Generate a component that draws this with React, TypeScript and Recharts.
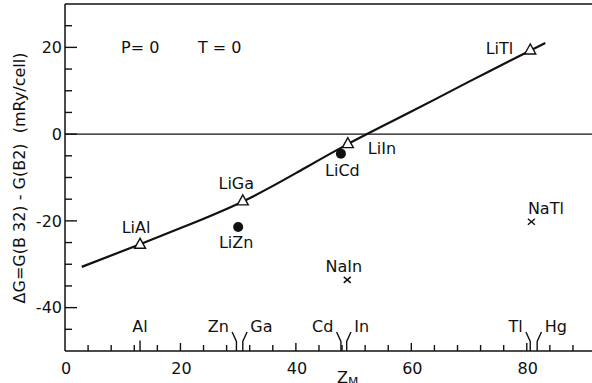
import React from 'react';
import { ComposedChart, Line, Scatter, XAxis, YAxis, ReferenceLine } from 'recharts';

// Fitted curve
const curveZ = [2.9, 13, 22, 31, 40, 49, 60, 70, 80.8, 83.2];
const curveDG = [-30.6, -25.4, -20.6, -15.4, -9.0, -2.3, 5.2, 12.1, 19.4, 21.0];

// Computed compounds
const pointNames = ['LiAl', 'LiGa', 'LiZn', 'LiCd', 'LiIn', 'NaIn', 'LiTl', 'NaTl'];
const pointZ = [13, 30.8, 30, 47.8, 49, 48.9, 80.6, 80.8];
const pointDG = [-25.4, -15.4, -21.4, -4.5, -2.2, -33.6, 19.4, -20.2];
const pointKind = ['triangle', 'triangle', 'circle', 'circle', 'triangle', 'cross', 'triangle', 'cross'];

// Element markers on the Z axis
const elementNames = ['Al', 'Zn', 'Ga', 'Cd', 'In', 'Tl', 'Hg'];
const elementZ = [13, 29.7, 30.8, 47.8, 48.8, 80.6, 81.8];
const elementBranch = ['single', 'left', 'right', 'left', 'right', 'left', 'right'];

// Axes
const xTicks = [0, 4, 8, 12, 16, 20, 24, 28, 32, 36, 40, 44, 48, 52, 56, 60, 64, 68, 72, 76, 80, 84, 88];
const xTickLabels = [0, 20, 40, 60, 80];
const yTicks = [-45, -40, -35, -30, -25, -20, -15, -10, -5, 0, 5, 10, 15, 20, 25];
const yTickLabels = [-40, -20, 0, 20];

const curveData = curveZ.map((z, i) => ({ z, dg: curveDG[i] }));
const pointData = pointNames.map((name, i) => ({ name, z: pointZ[i], dg: pointDG[i], kind: pointKind[i] }));
const elementData = elementNames.map((name, i) => ({ name, z: elementZ[i], dg: -50, branch: elementBranch[i] }));

// Label placement (layout, in px relative to marker)
const LABEL_POS: Record<string, { dx: number; dy: number; anchor: 'start' | 'middle' | 'end' }> = {
  LiAl: { dx: -4, dy: -11, anchor: 'middle' },
  LiGa: { dx: -6.5, dy: -12, anchor: 'middle' },
  LiZn: { dx: -2, dy: 21, anchor: 'middle' },
  LiCd: { dx: 1.5, dy: 22, anchor: 'middle' },
  LiIn: { dx: 20, dy: 10, anchor: 'start' },
  NaIn: { dx: -3.5, dy: -8, anchor: 'middle' },
  LiTl: { dx: -17, dy: 4, anchor: 'end' },
  NaTl: { dx: 14.5, dy: -8, anchor: 'middle' },
};

const FONT = 'DejaVu Sans, sans-serif';
const INK = '#111';

const YTick = (props: any) => {
  const { x, y, payload } = props;
  const v = payload.value;
  const major = yTickLabels.includes(v);
  return (
    <g>
      <line x1={x} x2={x + (major ? 12 : 7)} y1={y} y2={y} stroke={INK} strokeWidth={1.4} />
      {major && (
        <text x={x - 3} y={y + 5.8} textAnchor="end" fontFamily={FONT} fontSize={16} fill={INK}>
          {v}
        </text>
      )}
    </g>
  );
};

const XTick = (props: any) => {
  const { x, y, payload } = props;
  const v = payload.value;
  const major = xTickLabels.includes(v);
  return (
    <g>
      {v !== 0 && <line x1={x} x2={x} y1={y} y2={y - (major ? 8 : 6)} stroke={INK} strokeWidth={1.4} />}
      {major && (
        <text x={x + 1} y={y + 23} textAnchor="middle" fontFamily={FONT} fontSize={16} fill={INK}>
          {v}
        </text>
      )}
    </g>
  );
};

const PointShape = (props: any) => {
  const { cx, cy, payload } = props;
  const pos = LABEL_POS[payload.name];
  let mark: React.ReactNode = null;
  if (payload.kind === 'triangle') {
    mark = (
      <polygon
        points={`${cx},${cy - 6} ${cx - 5.5},${cy + 4} ${cx + 5.5},${cy + 4}`}
        fill="#fff"
        stroke={INK}
        strokeWidth={1.4}
      />
    );
  } else if (payload.kind === 'circle') {
    mark = <circle cx={cx} cy={cy} r={5} fill={INK} />;
  } else {
    mark = (
      <g stroke={INK} strokeWidth={1.4}>
        <line x1={cx - 3.5} y1={cy - 3} x2={cx + 3.5} y2={cy + 3} />
        <line x1={cx - 3.5} y1={cy + 3} x2={cx + 3.5} y2={cy - 3} />
      </g>
    );
  }
  return (
    <g>
      {mark}
      <text x={cx + pos.dx} y={cy + pos.dy} textAnchor={pos.anchor} fontFamily={FONT} fontSize={16} fill={INK}>
        {payload.name}
      </text>
    </g>
  );
};

const ElementShape = (props: any) => {
  const { cx, cy, payload } = props;
  const b = payload.branch;
  if (b === 'single') {
    return (
      <g>
        <line x1={cx} x2={cx} y1={cy} y2={cy - 10.5} stroke={INK} strokeWidth={1.4} />
        <text x={cx} y={cy - 19} textAnchor="middle" fontFamily={FONT} fontSize={16} fill={INK}>
          {payload.name}
        </text>
      </g>
    );
  }
  const s = b === 'left' ? -1 : 1;
  return (
    <g>
      <polyline
        points={`${cx},${cy} ${cx},${cy - 9.5} ${cx + s * 4.3},${cy - 19}`}
        fill="none"
        stroke={INK}
        strokeWidth={1.4}
      />
      <text
        x={cx + s * 7.5}
        y={cy - 19}
        textAnchor={b === 'left' ? 'end' : 'start'}
        fontFamily={FONT}
        fontSize={16}
        fill={INK}
      >
        {payload.name}
      </text>
    </g>
  );
};

const XTitle = () => (
  <g fontFamily={FONT} fill={INK}>
    <text x={121} y={52.5} fontSize={16}>P= 0</text>
    <text x={198} y={52.5} fontSize={16}>T = 0</text>
    <text x={337} y={383} fontSize={16}>
      Z<tspan fontSize={12} dy={3}>M</tspan>
    </text>
  </g>
);

const YTitle = () => (
  <text
    x={0}
    y={0}
    transform="translate(25,178) rotate(-90)"
    textAnchor="middle"
    fontFamily={FONT}
    fontSize={16}
    fill={INK}
    style={{ whiteSpace: 'pre' }}
  >
    {'ΔG=G(B 32) - G(B2)  (mRy/cell)'}
  </text>
);

export default function App() {
  return (
    <div style={{ position: 'absolute', left: 0, top: 0, width: 592, height: 383, background: '#fff' }}>
      <ComposedChart width={592} height={383} margin={{ top: 4, right: 0, bottom: 0, left: 0 }}>
        <XAxis
          dataKey="z"
          type="number"
          domain={[0, 91.3]}
          allowDataOverflow
          ticks={xTicks}
          interval={0}
          height={32}
          tickSize={0}
          tickMargin={0}
          tickLine={false}
          tick={<XTick />}
          axisLine={{ stroke: INK, strokeWidth: 1.5 }}
          label={<XTitle />}
        />
        <YAxis
          dataKey="dg"
          type="number"
          domain={[-50, 30]}
          allowDataOverflow
          ticks={yTicks}
          interval={0}
          width={65}
          tickSize={0}
          tickMargin={0}
          tickLine={false}
          tick={<YTick />}
          axisLine={{ stroke: INK, strokeWidth: 1.5 }}
          label={<YTitle />}
        />
        <ReferenceLine y={30} stroke={INK} strokeWidth={1.5} />
        <ReferenceLine y={0} stroke={INK} strokeWidth={1.3} />
        <Line
          data={curveData}
          dataKey="dg"
          type="natural"
          stroke={INK}
          strokeWidth={2.2}
          dot={false}
          isAnimationActive={false}
        />
        <Scatter data={pointData} dataKey="dg" shape={<PointShape />} isAnimationActive={false} />
        <Scatter data={elementData} dataKey="dg" shape={<ElementShape />} isAnimationActive={false} />
      </ComposedChart>
    </div>
  );
}
